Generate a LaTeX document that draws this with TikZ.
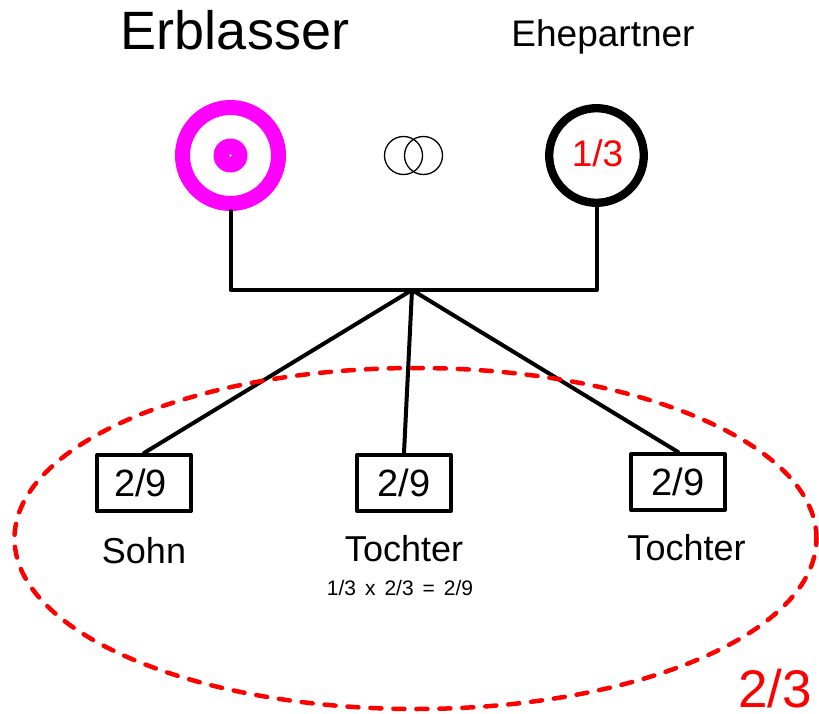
\documentclass[tikz,border=0pt]{standalone}
\usepackage{fontspec}
\setmainfont{Liberation Sans}
\usetikzlibrary{shapes.geometric}
\definecolor{pink}{RGB}{255,0,255}
\definecolor{shred}{RGB}{255,0,0}
\newcommand{\fs}[1]{\fontsize{#1}{#1}\selectfont}
\newcommand{\gap}{\hspace{9pt}}
\tikzset{
  txt/.style={inner sep=0pt, anchor=base},
  famline/.style={draw=black, line width=4pt, line cap=round, line join=round},
  sharebox/.style={draw=black, line width=4pt, line join=round, rectangle, minimum width=94pt, minimum height=56pt, inner sep=0pt, font=\fs{38}},
  ringlet/.style={circle, draw=black, line width=1.3pt, minimum size=38pt, inner sep=0pt},
}
\begin{document}
\begin{tikzpicture}[x=1pt,y=-1pt]
\useasboundingbox (0,0) rectangle (819,714);
% titles
\node[txt, font=\fs{54}] (tE) at (235,50) {Erblasser};
\node[txt, font=\fs{37}] (tP) at (603,46.7) {Ehepartner};
% Erblasser symbol
\node[circle, draw=pink, line width=15pt, minimum size=96pt, inner sep=0pt] (E) at (230.5,155.5) {};
\node[circle, fill=pink, minimum size=34pt, inner sep=0pt] (Edot) at (230.5,155.5) {};
\node[circle, fill=white, minimum size=2.6pt, inner sep=0pt] (Ec) at (230.5,155.5) {};
% marriage symbol
\node[ringlet] (m1) at (403.5,155.5) {};
\node[ringlet] (m2) at (423.5,155.5) {};
% spouse
\node[circle, draw=black, line width=8.3pt, minimum size=94.6pt, inner sep=0pt] (P) at (596.5,155.5) {};
\node[txt, font=\fs{37}, text=shred] (Pq) at (597.5,166.7) {1/3};
% family lines
\coordinate (J) at (412,290);
\draw[famline] (E.south) |- (J) -| (P.south);
% children
\node[sharebox] (S) at (144,483) {\hspace*{-7pt}2/9};
\node[sharebox] (T1) at (404,483) {2/9};
\node[sharebox] (T2) at (678,482) {2/9};
\draw[famline] (J) -- (S.north);
\draw[famline] (J) -- (T1.north);
\draw[famline] (J) -- (T2.north);
\node[txt, font=\fs{36}] (lS) at (144,563) {Sohn};
\node[txt, font=\fs{36}] (lT1) at (404,561.7) {Tochter};
\node[txt, font=\fs{36}] (lT2) at (686.5,560) {Tochter};
\node[txt, font=\fs{21}] (calc) at (400,595) {1/3\gap x\gap 2/3\gap =\gap 2/9};
% heirs ellipse
\node[ellipse, draw=shred, line width=4.5pt, line cap=round, dash pattern=on 11pt off 12pt, minimum width=802pt, minimum height=341pt, inner sep=0pt] (H) at (415.5,538.5) {};
\node[txt, anchor=base west, font=\fs{53}, text=shred] (q23) at (738,707) {2/3};
\end{tikzpicture}
\end{document}
